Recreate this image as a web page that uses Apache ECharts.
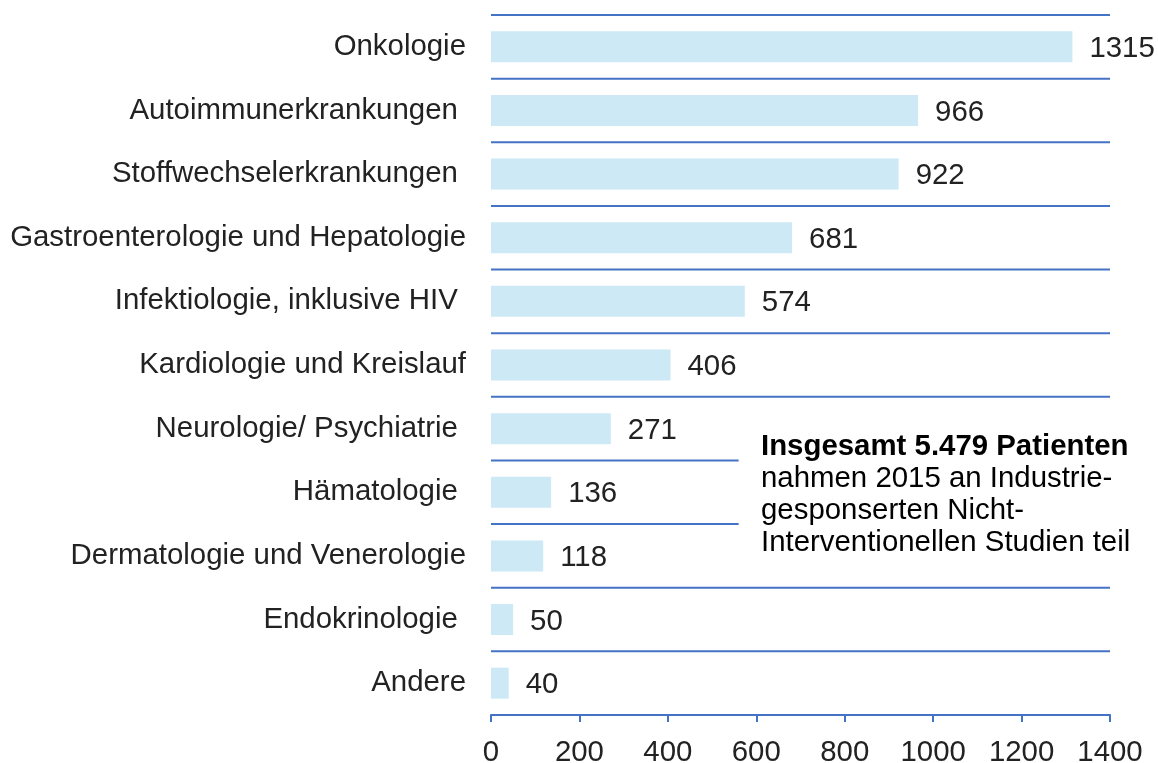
<!DOCTYPE html>
<html>
<head>
<meta charset="utf-8">
<script src="https://cdn.jsdelivr.net/npm/echarts@6/dist/echarts.min.js"></script>
<style>
  html, body { margin: 0; padding: 0; background: #fff; }
  #chart { width: 1158px; height: 763px; }
</style>
</head>
<body>
<div id="chart"></div>
<script>
  // Kategorien (von oben nach unten), einige mit Leerzeichen am Ende wie im Original
  const categories = [
    'Onkologie',
    'Autoimmunerkrankungen ',
    'Stoffwechselerkrankungen ',
    'Gastroenterologie und Hepatologie',
    'Infektiologie, inklusive HIV ',
    'Kardiologie und Kreislauf',
    'Neurologie/ Psychiatrie ',
    'Hämatologie ',
    'Dermatologie und Venerologie',
    'Endokrinologie ',
    'Andere'
  ]
  // Patientenzahlen
  const values = [1315, 966, 922, 681, 574, 406, 271, 136, 118, 50, 40]
  // Achsenwerte
  const xTicks = [0, 200, 400, 600, 800, 1000, 1200, 1400]
  // Trennlinien: Index der Kategorie, über der die Linie liegt, und bis wohin sie läuft
  const sepIndex = [0, 1, 2, 3, 4, 5, 6, 7, 8, 9, 10]
  const sepEnd = [1400, 1400, 1400, 1400, 1400, 1400, 1400, 560, 560, 1400, 1400]

  const lineColor = '#4472c4'
  const textColor = '#222222'
  const font = 'Liberation Sans, Arial, sans-serif'
  const fontSize = 29.4

  const chart = echarts.init(document.getElementById('chart'))

  const option = {
    animation: false,
    grid: {
      top: 15,
      bottom: 48,
      left: 491,
      right: 48,
      containLabel: false,
      outerBoundsMode: 'none'
    },
    xAxis: {
      type: 'value',
      min: xTicks[0],
      max: xTicks[xTicks.length - 1],
      interval: xTicks[1] - xTicks[0],
      axisLine: { show: true, lineStyle: { color: lineColor, width: 2 } },
      axisTick: { show: true, length: 7, lineStyle: { color: lineColor, width: 2 } },
      splitLine: { show: false },
      axisLabel: {
        fontFamily: font,
        fontSize: fontSize,
        color: textColor,
        margin: 23,
        formatter: v => String(v)
      }
    },
    yAxis: {
      type: 'category',
      inverse: true,
      data: categories,
      axisLine: { show: false },
      axisTick: { show: false },
      splitLine: { show: false },
      axisLabel: {
        fontFamily: font,
        fontSize: fontSize,
        color: textColor,
        margin: 25,
        padding: [4, 0, 0, 0]
      }
    },
    series: [
      {
        type: 'bar',
        data: values,
        barWidth: 31,
        itemStyle: { color: '#cce9f5' },
        label: {
          show: true,
          position: 'right',
          distance: 17,
          offset: [0, 2],
          fontFamily: font,
          fontSize: fontSize,
          color: textColor
        },
        z: 2
      },
      {
        // blaue Trennlinien zwischen den Kategorien
        type: 'custom',
        data: sepIndex.map((k, i) => [k, sepEnd[i]]),
        encode: { y: 0, x: 1 },
        silent: true,
        z: 3,
        renderItem(params, api) {
          const k = api.value(0)
          const band = api.size([0, 1])[1]
          const start = api.coord([0, k])
          const end = api.coord([api.value(1), k])
          const y = start[1] - band / 2
          return {
            type: 'line',
            shape: { x1: start[0], y1: y, x2: end[0], y2: y },
            style: { stroke: lineColor, lineWidth: 2 }
          }
        }
      }
    ],
    graphic: [
      {
        type: 'text',
        left: 761,
        top: 432,
        style: {
          text: '{b|Insgesamt 5.479 Patienten}\n{n|nahmen 2015 an Industrie-}\n{n|gesponserten Nicht-}\n{n|Interventionellen Studien teil}',
          rich: {
            b: { fontFamily: font, fontSize: fontSize, fontWeight: 'bold', fill: '#000', lineHeight: 32 },
            n: { fontFamily: font, fontSize: fontSize, fill: '#000', lineHeight: 32 }
          }
        }
      }
    ]
  }

  chart.setOption(option)
</script>
</body>
</html>
